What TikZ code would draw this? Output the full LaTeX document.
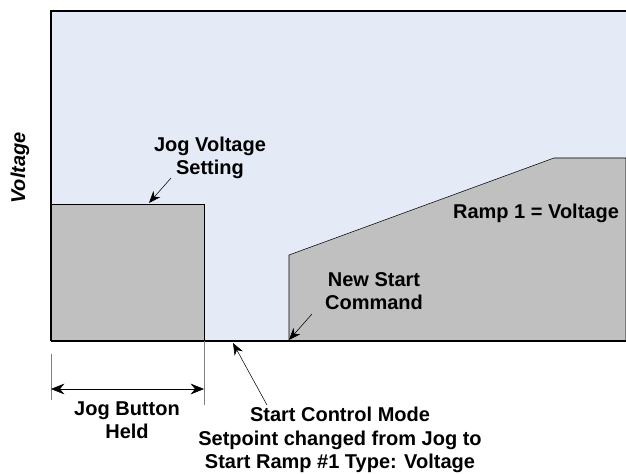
\documentclass[tikz,border=0pt]{standalone}
\usepackage{fontspec}
\setmainfont{Liberation Sans}
\usetikzlibrary{arrows.meta}
\definecolor{plotbg}{HTML}{E4EBF6}
\definecolor{levelgray}{HTML}{C0C0C0}
\tikzset{
  lbl/.style={font=\bfseries\fontsize{15}{17.5}\selectfont, align=center, inner sep=0pt},
  callout/.style={-{Stealth[length=9pt,width=7pt]}, thin},
}
\begin{document}
\begin{tikzpicture}[x=0.75pt, y=-0.75pt]
    \useasboundingbox (0,0) rectangle (626,474);
    % plot area
    \fill[plotbg] (51,11) rectangle (626,341);
    \draw[black, line width=2pt] (626,11) -- (51,11) -- (51,341);
    % jog level
    \draw[black, fill=levelgray] (51,341) -- (51,204) -- (204,204) -- (204,341);
    % ramp 1
    \draw[black, fill=levelgray] (289,341) -- (289,255) -- (554,158) -- (626,158) -- (626,341);
    \draw[black, line width=2pt] (51,341) -- (626,341);
    % held interval
    \draw[gray, thin] (51,354) -- (51,400);
    \draw[gray, thin] (204,341) -- (204,405);
    \coordinate (heldL) at (51,389);
    \coordinate (heldR) at (204,389);
    \draw[{Stealth[length=10pt,width=8pt]}-{Stealth[length=10pt,width=8pt]}] (heldL) -- (heldR);
    % labels
    \node[lbl, rotate=90, font=\bfseries\itshape\fontsize{15}{17.5}\selectfont] (axis) at (20,168) {Voltage};
    \node[lbl] (jogset) at (210,158) {Jog Voltage\\Setting};
    \node[lbl] (ramp) at (536,213) {Ramp 1 = Voltage};
    \node[lbl] (newstart) at (374,291) {New Start\\Command};
    \node[lbl] (held) at (127,420) {Jog Button\\Held};
    \node[lbl] (mode) at (340,440) {Start Control Mode\\Setpoint changed from Jog to\\Start Ramp \#1 Type: Voltage};
    % callouts
    \coordinate (jogtop) at (149,203);
    \coordinate (rampfoot) at (289,340);
    \coordinate (switch) at (233,343);
    \draw[callout] (171,178) -- (jogtop);
    \draw[callout] (312,314) -- (rampfoot);
    \draw[callout] (267,405) -- (switch);
\end{tikzpicture}
\end{document}
